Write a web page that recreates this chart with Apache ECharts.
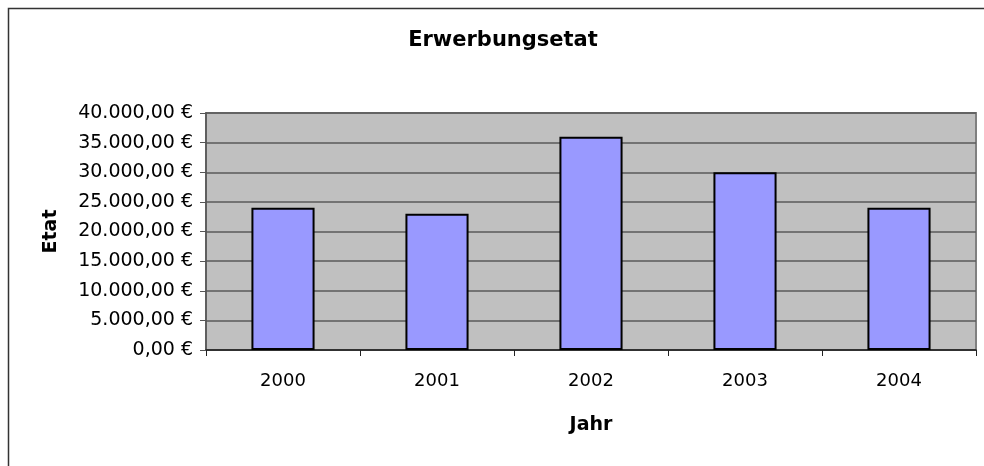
<!DOCTYPE html>
<html>
<head>
<meta charset="utf-8">
<title>Erwerbungsetat</title>
<script src="https://cdn.jsdelivr.net/npm/echarts@6/dist/echarts.min.js"></script>
<style>
  html, body { margin: 0; padding: 0; background: #fff; }
  #MyChart { width: 984px; height: 466px; }
</style>
</head>
<body>
<div id="MyChart"></div>
<script>
// Daten
let jahre = ['2000', '2001', '2002', '2003', '2004']
let etat = [24000, 23000, 36000, 30000, 24000]
let yMin = 0
let yMax = 40000
let yStep = 5000

// 40000 -> "40.000,00 €"
function euro (v) {
  let parts = v.toFixed(2).split('.')
  let ganz = parts[0].replace(/\B(?=(\d{3})+(?!\d))/g, '.')
  return ganz + ',' + parts[1] + ' €'
}

let font = 'DejaVu Sans'
let myChart = echarts.init(document.getElementById('MyChart'))
let option = {
  animation: false,
  backgroundColor: '#fff',
  title: {
    text: 'Erwerbungsetat',
    left: 503,
    top: 30,
    padding: 0,
    textAlign: 'center',
    textStyle: {
      fontFamily: font,
      fontSize: 21,
      fontWeight: 'bold',
      color: '#000'
    }
  },
  // Rahmen um das Diagramm (rechts/unten abgeschnitten)
  graphic: [
    {
      type: 'rect',
      silent: true,
      shape: { x: 8.5, y: 8.5, width: 1000, height: 500 },
      style: { fill: 'none', stroke: '#333', lineWidth: 1.5 }
    }
  ],
  grid: {
    left: 206,
    right: 8,
    top: 113,
    bottom: 116,
    show: true,
    backgroundColor: '#c0c0c0',
    borderColor: '#808080',
    borderWidth: 2
  },
  xAxis: {
    type: 'category',
    data: jahre,
    name: 'Jahr',
    nameLocation: 'middle',
    nameGap: 66,
    nameTextStyle: {
      fontFamily: font,
      fontSize: 19,
      fontWeight: 'bold',
      color: '#000'
    },
    axisLine: { lineStyle: { color: '#222', width: 1.5 } },
    axisTick: { show: true, length: 6, lineStyle: { color: '#222' } },
    axisLabel: {
      margin: 22,
      fontFamily: font,
      fontSize: 18,
      color: '#000'
    }
  },
  yAxis: {
    type: 'value',
    min: yMin,
    max: yMax,
    interval: yStep,
    name: 'Etat',
    nameLocation: 'middle',
    nameGap: 145,
    nameTextStyle: {
      fontFamily: font,
      fontSize: 19,
      fontWeight: 'bold',
      color: '#000'
    },
    axisLine: { show: true, lineStyle: { color: '#555', width: 1.5 } },
    axisTick: { show: true, length: 6, lineStyle: { color: '#555' } },
    axisLabel: {
      margin: 13,
      fontFamily: font,
      fontSize: 19,
      color: '#000',
      formatter: euro
    },
    splitLine: { lineStyle: { color: '#5a5a5a', width: 1.5 } }
  },
  series: [
    {
      name: 'Etat',
      type: 'bar',
      data: etat,
      barWidth: '41%',
      itemStyle: {
        color: '#9999ff',
        borderColor: '#000',
        borderWidth: 2
      }
    }
  ]
}
myChart.setOption(option)
</script>
</body>
</html>
